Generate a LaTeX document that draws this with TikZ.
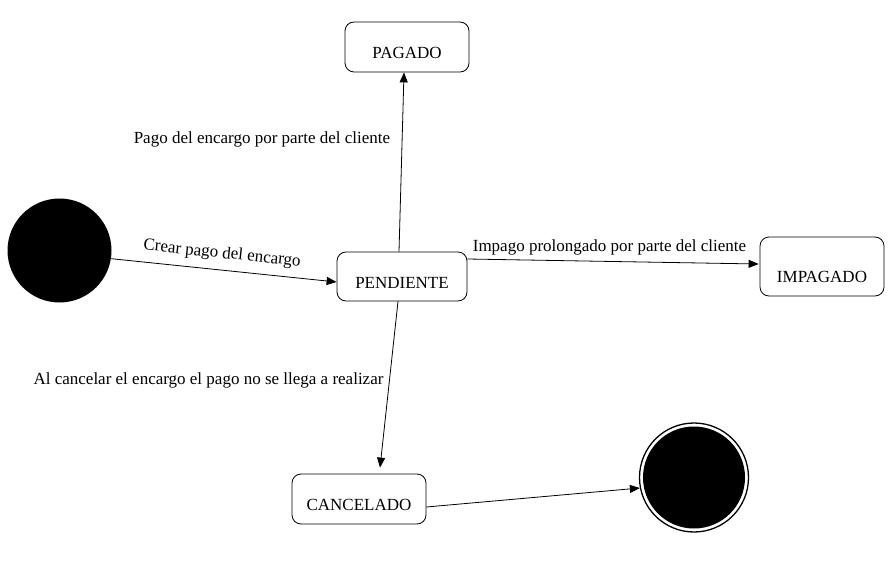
\documentclass[tikz,border=0pt]{standalone}
\usepackage{fontspec}
\setmainfont{Liberation Serif}
\usetikzlibrary{arrows.meta,calc}
\begin{document}
\begin{tikzpicture}[x=1pt,y=-1pt,
  every node/.style={font=\fontsize{17}{20}\selectfont},
  statebox/.style={draw=black, line width=0.8pt, rounded corners=9pt, inner sep=2pt, text height=#1, text depth=0pt},
  conn/.style={draw=black, line width=0.8pt, -{Triangle[length=10pt,width=8pt]}},
  lbl/.style={inner sep=0pt}
]
\useasboundingbox (0,0) rectangle (896,585);

% initial and final states
\node[circle, fill=black, minimum size=104pt, inner sep=0pt] (start) at (59.5,250.5) {};
\node[circle, draw=black, line width=1.3pt, minimum size=109pt, inner sep=0pt,
      path picture={\fill[black] (path picture bounding box.center) circle (51pt);}] (endc) at (694,477.5) {};

% states
\node[statebox=24.3pt, minimum width=130pt, minimum height=49pt] (pend) at (402,276.5) {PENDIENTE};
\node[statebox=22.3pt, minimum width=124pt, minimum height=50pt] (pag) at (407,47) {PAGADO};
\node[statebox=31.3pt, minimum width=124pt, minimum height=59pt] (imp) at (822,266.5) {IMPAGADO};
\node[statebox=23.3pt, minimum width=134pt, minimum height=50pt] (canc) at (359,499) {CANCELADO};

% transitions
\draw[conn] (start.-9.4) -- ($(pend.west)+(0,5.5)$);
\draw[conn] ($(pend.north)+(-3,0)$) -- ($(pag.south)+(-3,0)$);
\draw[conn] ($(pend.east)+(0,-17.5)$) -- ($(imp.west)+(-1,-2.5)$);
\draw[conn] ($(pend.south)+(-4,0)$) -- ($(canc.north)+(21,-6)$);
\draw[conn] ($(canc.east)+(0,8)$) -- (endc.191.4);

% labels
\node[lbl, rotate=-6] (l1) at (222,254) {Crear pago del encargo};
\node[lbl] (l2) at (262,139) {Pago del encargo por parte del cliente};
\node[lbl] (l3) at (609.5,247.5) {Impago prolongado por parte del cliente};
\node[lbl] (l4) at (208.5,380) {Al cancelar el encargo el pago no se llega a realizar};
\end{tikzpicture}
\end{document}
